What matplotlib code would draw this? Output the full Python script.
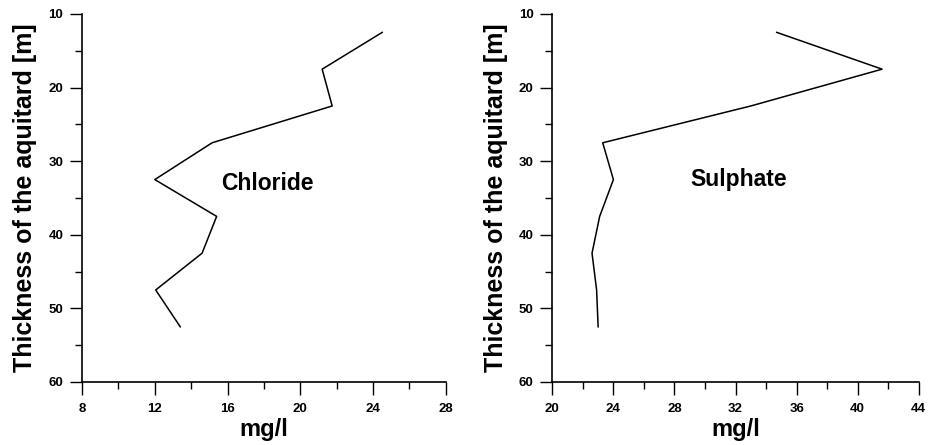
import matplotlib
matplotlib.use('Agg')
import matplotlib.pyplot as plt
from matplotlib.ticker import MultipleLocator

plt.rcParams['font.family'] = ['Liberation Sans', 'DejaVu Sans']
plt.rcParams['font.weight'] = 'bold'

# depth of each sample (m)
depth = [12.5, 17.5, 22.5, 27.5, 32.5, 37.5, 42.5, 47.5, 52.5]
# concentrations (mg/l)
chloride = [24.5, 21.2, 21.75, 15.15, 12.0, 15.4, 14.6, 12.05, 13.4]
sulphate = [34.7, 41.6, 33.0, 23.3, 24.0, 23.1, 22.6, 22.9, 23.0]

panels = [
    ('Chloride', chloride, (8, 28), (18.2, 33.0), [0.0879, 0.1416, 0.390, 0.827]),
    ('Sulphate', sulphate, (20, 44), (32.2, 32.5), [0.592, 0.1416, 0.3927, 0.827]),
]

fig = plt.figure(figsize=(9.33, 4.45), dpi=100)

for name, values, xlim, text_pos, rect in panels:
    ax = fig.add_axes(rect)
    ax.plot(values, depth, color='black', linewidth=1.1)
    ax.set_xlim(*xlim)
    ax.set_ylim(60, 10)
    ax.xaxis.set_major_locator(MultipleLocator(4))
    ax.xaxis.set_minor_locator(MultipleLocator(2))
    ax.yaxis.set_major_locator(MultipleLocator(10))
    ax.yaxis.set_minor_locator(MultipleLocator(5))
    for side in ('top', 'right'):
        ax.spines[side].set_visible(False)
    for side in ('left', 'bottom'):
        ax.spines[side].set_linewidth(1.2)
    ax.tick_params(which='major', length=9, width=1.0, labelsize=9.5)
    ax.tick_params(which='minor', length=4.7, width=1.0)
    ax.tick_params(axis='x', which='major', pad=6)
    ax.tick_params(axis='y', which='major', pad=4.5)
    for lab in ax.get_xticklabels() + ax.get_yticklabels():
        lab.set_fontweight('bold')
    ax.set_xlabel('mg/l', fontsize=17, fontweight='bold', labelpad=2)
    ax.set_ylabel('Thickness of the aquitard [m]', fontsize=18, fontweight='bold', labelpad=8)
    ax.text(text_pos[0], text_pos[1], name, fontsize=16.5, fontweight='bold',
            ha='center', va='center')

fig.savefig('out.png', dpi=100)
